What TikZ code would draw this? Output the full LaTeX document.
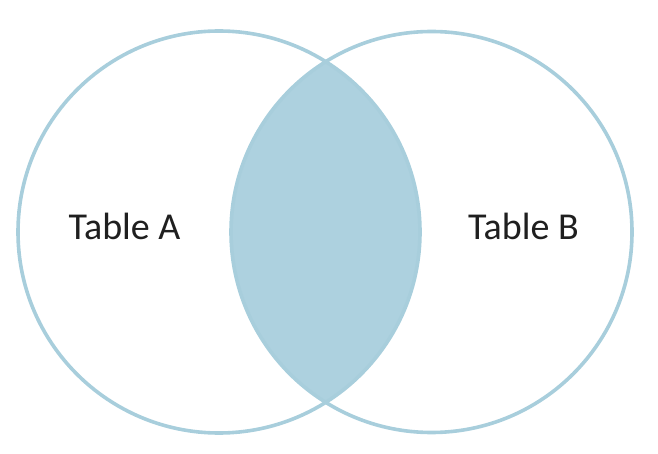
\documentclass[tikz,border=0pt]{standalone}
\usepackage{fontspec}
\setmainfont{Carlito}
\definecolor{vennfill}{RGB}{173,209,223}
\definecolor{vennline}{RGB}{168,206,220}
\begin{document}
\begin{tikzpicture}[x=1pt,y=1pt,
  ring/.style={draw=vennline, line width=3.6pt},
  label/.style={font=\fontsize{38}{40}\selectfont, text=black!88, inner sep=0pt, anchor=base}]
\useasboundingbox (0,0) rectangle (658,-454);
\coordinate (ca) at (219,-232);
\coordinate (cb) at (431.5,-232);
\begin{scope}
  \clip (ca) circle (201);
  \fill[vennfill] (cb) circle (200.5);
\end{scope}
\draw[ring] (ca) circle (201);
\draw[ring] (cb) circle (200.5);
\node[label] (ta) at (124.5,-240) {Table A};
\node[label] (tb) at (523.5,-240) {Table B};
\end{tikzpicture}
\end{document}
